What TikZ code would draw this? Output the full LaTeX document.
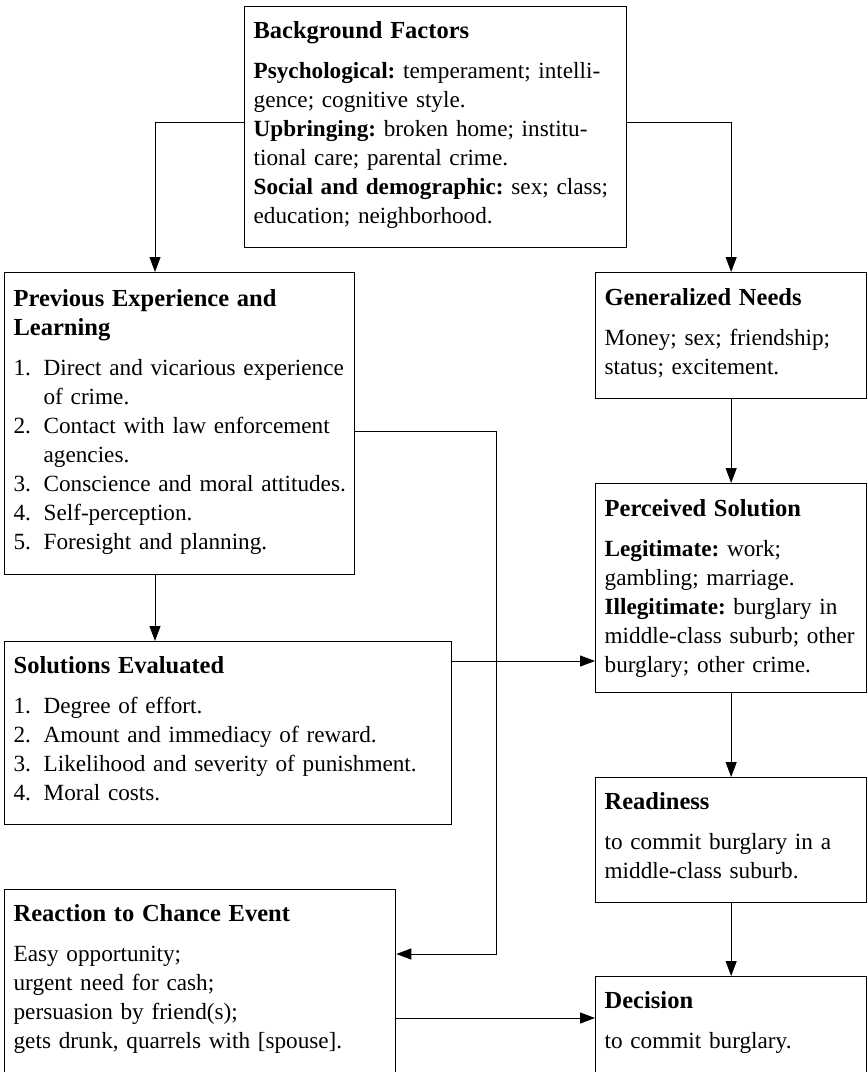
\documentclass[tikz,border=0pt]{standalone}
\usepackage{fontspec}
\setmainfont{Liberation Serif}
\usetikzlibrary{arrows.meta,calc}
\newcommand{\ttl}[1]{\rule{0pt}{32pt}{\bfseries\fontsize{24.5}{29}\selectfont #1}}
\newcommand{\ttlb}[1]{{\bfseries\fontsize{24.5}{29}\selectfont #1}}
\newcommand{\bst}{\rule[-24pt]{0pt}{24pt}}
\newcommand{\itm}[2]{\makebox[30pt][l]{#1}\mbox{#2}}
\newcommand{\cnt}{\hspace*{30pt}}
\tikzset{
  box/.style={draw, line width=1.3pt, anchor=north west, inner xsep=9pt, inner ysep=0pt,
    align=left, font=\fontsize{23.2}{29}\selectfont\frenchspacing},
  arr/.style={line width=1pt, -{Triangle[length=15pt,width=11pt]}},
  ln/.style={line width=1pt}
}
\begin{document}
\begin{tikzpicture}[x=1pt,y=-1pt]
\useasboundingbox (0,0) rectangle (868,1072);

\node[box, text width=364pt, minimum height=241pt] (bg) at (244,6) {%
\ttl{Background Factors}\\[11pt]
\mbox{\textbf{Psychological:} temperament; intelli-}\\
gence; cognitive style.\\
\mbox{\textbf{Upbringing:} broken home; institu-}\\
tional care; parental crime.\\
\mbox{\textbf{Social and demographic:} sex; class;}\\
education; neighborhood.\bst};

\node[box, text width=332pt, minimum height=302pt] (prev) at (4,272) {%
\ttl{Previous Experience and}\\
\ttlb{Learning}\\[11pt]
\itm{1.}{Direct and vicarious experience}\\
\cnt of crime.\\
\itm{2.}{Contact with law enforcement}\\
\cnt agencies.\\
\itm{3.}{Conscience and moral attitudes.}\\
\itm{4.}{Self-perception.}\\
\itm{5.}{Foresight and planning.}\bst};

\node[box, text width=253pt, minimum height=126pt] (gn) at (595,272) {%
\ttl{Generalized Needs}\\[11pt]
Money; sex; friendship;\\
status; excitement.\bst};

\node[box, text width=253pt, minimum height=209pt] (ps) at (595,483) {%
\ttl{Perceived Solution}\\[11pt]
\textbf{Legitimate:} work;\\
gambling; marriage.\\
\mbox{\textbf{Illegitimate:} burglary in}\\
\mbox{middle-class suburb; other}\\
burglary; other crime.\rule[-20pt]{0pt}{20pt}};

\node[box, text width=429pt, minimum height=182pt] (se) at (4,641) {%
\ttl{Solutions Evaluated}\\[11pt]
\itm{1.}{Degree of effort.}\\
\itm{2.}{Amount and immediacy of reward.}\\
\itm{3.}{Likelihood and severity of punishment.}\\
\itm{4.}{Moral costs.}\bst};

\node[box, text width=253pt, minimum height=125pt] (rd) at (595,777) {%
\ttl{Readiness}\\[11pt]
to commit burglary in a\\
middle-class suburb.\bst};

\node[box, text width=373pt, minimum height=182pt] (rce) at (4,889) {%
\ttl{Reaction to Chance Event}\\[11pt]
Easy opportunity;\\
urgent need for cash;\\
persuasion by friend(s);\\
\mbox{gets drunk, quarrels with [spouse].}\bst};

\node[box, text width=253pt, minimum height=95pt] (dec) at (595,976) {%
\ttl{Decision}\\[11pt]
to commit burglary.\bst};

% connectors
\coordinate (bgw) at ($(bg.north west)+(0,116)$);
\coordinate (bge) at ($(bg.north east)+(0,116)$);
\coordinate (pn) at ($(prev.north west)+(151,0)$);
\coordinate (ps1) at ($(prev.south west)+(151,0)$);
\coordinate (sen) at ($(se.north west)+(151,0)$);
\draw[arr] (bgw) -| (pn);
\draw[arr] (bge) -| (gn.north);
\draw[arr] (gn.south) -- (ps.north);
\draw[arr] (ps.south) -- (rd.north);
\draw[arr] (rd.south) -- (dec.north);
\draw[arr] (ps1) -- (sen);

\coordinate (pe) at ($(prev.north east)+(0,159)$);
\coordinate (jx) at (496,0);
\coordinate (re) at ($(rce.north east)+(0,65)$);
\draw[arr] (pe) -- (pe -| jx) -- (re -| jx) -- (re);

\coordinate (sa) at ($(se.north east)+(0,20)$);
\draw[arr] (sa) -- (sa -| ps.west);

\coordinate (rb) at ($(rce.north east)+(0,129)$);
\draw[arr] (rb) -- (rb -| dec.west);
\end{tikzpicture}
\end{document}
